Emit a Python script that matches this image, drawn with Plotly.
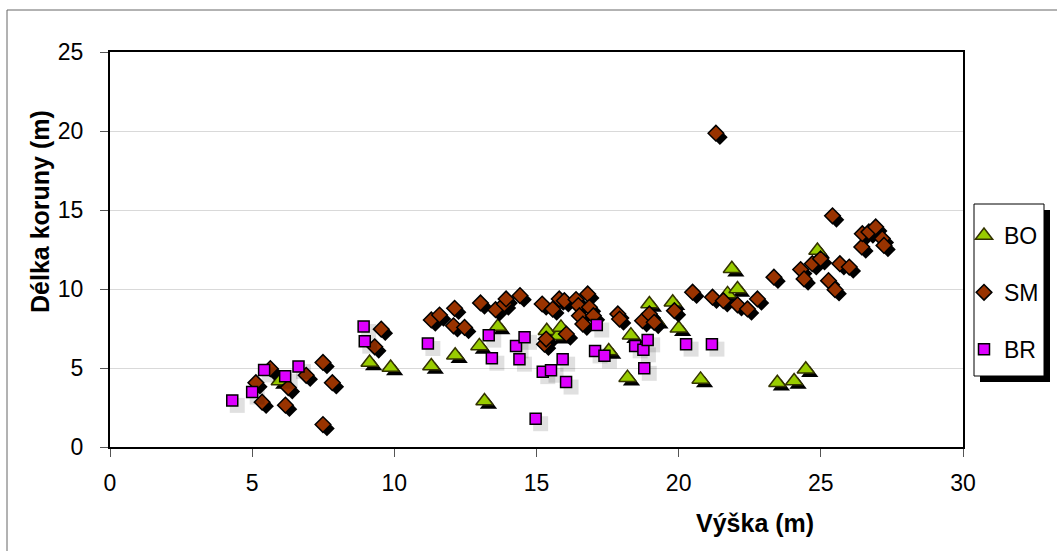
import plotly.graph_objects as go

# ---- data ----
bo_x = [5.97, 9.13, 9.87, 11.3, 12.14, 12.99, 13.17, 13.64, 15.36, 15.75, 15.86, 17.54, 18.2, 18.32,
        18.97, 19.2, 19.79, 20.0, 20.77, 21.72, 21.87, 22.07, 23.47, 24.06, 24.47, 24.88]
bo_y = [4.18, 5.35, 5.03, 5.13, 5.81, 6.40, 2.91, 7.63, 7.36, 7.04, 7.57, 6.08, 4.39, 7.08,
        9.05, 7.99, 9.16, 7.51, 4.28, 9.69, 11.28, 10.0, 4.07, 4.18, 4.92, 12.44]

sm_x = [5.13, 5.35, 5.64, 6.17, 6.27, 6.9, 7.49, 7.49, 7.82,
        9.31, 9.54,
        11.3, 11.59, 12.08, 12.12, 12.47,
        13.03, 13.56, 13.87, 13.93, 14.42,
        15.2, 15.28, 15.34, 15.57, 15.8, 15.98, 16.05, 16.39, 16.47, 16.51, 16.63, 16.8, 16.86, 17.0,
        17.86, 17.92, 18.73, 18.97, 19.14, 19.85, 20.49,
        21.19, 21.31, 21.57, 22.07, 22.42, 22.77,
        23.35, 24.29, 24.41, 24.7, 24.99, 25.27, 25.41, 25.5, 25.67, 26.0,
        26.44, 26.46, 26.69, 26.93, 27.16, 27.22]
sm_y = [4.07, 2.84, 4.96, 2.65, 3.76, 4.54, 5.35, 1.42, 4.07,
        6.34, 7.46,
        8.04, 8.35, 7.67, 8.78, 7.57,
        9.12, 8.69, 9.05, 9.37, 9.58,
        9.05, 6.51, 6.83, 8.73, 9.37, 9.26, 7.15, 9.33, 8.95, 8.31, 7.78, 9.69, 8.84, 8.31,
        8.42, 8.1, 7.99, 8.42, 7.89, 8.63, 9.8,
        9.48, 19.86, 9.26, 9.0, 8.74, 9.37,
        10.75, 11.23, 10.64, 11.6, 11.91, 10.53, 14.63, 9.96, 11.6, 11.39,
        12.66, 13.5, 13.61, 13.93, 13.19, 12.76]

br_x = [4.30, 5.0, 5.42, 6.16, 6.63, 8.92, 8.96, 11.18, 13.32, 13.43, 14.28, 14.4, 14.58, 14.97,
        15.22, 15.51, 15.92, 16.04, 17.06, 17.12, 17.39, 18.47, 18.76, 18.79, 18.91, 20.26, 21.17]
br_y = [2.95, 3.48, 4.88, 4.48, 5.09, 7.63, 6.70, 6.55, 7.08, 5.62, 6.40, 5.56, 6.94, 1.79,
        4.77, 4.86, 5.56, 4.11, 6.08, 7.72, 5.77, 6.40, 6.15, 4.98, 6.78, 6.51, 6.51]

x_ticks = [0, 5, 10, 15, 20, 25, 30]
y_ticks = [0, 5, 10, 15, 20, 25]

FONT = "Liberation Sans, Arial, sans-serif"

# plot-area geometry (px) used for shadow offsets & decorations
L, R, T, B = 110, 94, 52, 104
W, H = 1057, 551
pw, ph = W - L - R, H - T - B
ux = pw / 30.0
uy = ph / 25.0


def shift(vals, px, unit, sign):
    return [v + sign * px / unit for v in vals]


fig = go.Figure()

# BO
fig.add_trace(go.Scatter(x=shift(bo_x, 4, ux, 1), y=shift(bo_y, 4, uy, -1), mode="markers",
                         marker=dict(symbol="triangle-up", size=15, color="black", line=dict(width=0)),
                         showlegend=False, hoverinfo="skip"))
fig.add_trace(go.Scatter(x=bo_x, y=bo_y, mode="markers", name="BO", legendgroup="BO",
                         marker=dict(symbol="triangle-up", size=15, color="#99CC00",
                                     line=dict(color="#333300", width=1.5))))
# SM
fig.add_trace(go.Scatter(x=shift(sm_x, 4, ux, 1), y=shift(sm_y, 4, uy, -1), mode="markers",
                         marker=dict(symbol="diamond", size=12, color="black", line=dict(width=0)),
                         showlegend=False, hoverinfo="skip"))
fig.add_trace(go.Scatter(x=sm_x, y=sm_y, mode="markers", name="SM", legendgroup="SM",
                         marker=dict(symbol="diamond", size=12, color="#993300",
                                     line=dict(color="black", width=1.5))))
# BR
fig.add_trace(go.Scatter(x=shift(br_x, 5, ux, 1), y=shift(br_y, 5, uy, -1), mode="markers",
                         marker=dict(symbol="square", size=15, color="rgba(0,0,0,0.12)", line=dict(width=0)),
                         showlegend=False, hoverinfo="skip"))
fig.add_trace(go.Scatter(x=br_x, y=br_y, mode="markers", name="BR", legendgroup="BR",
                         marker=dict(symbol="square", size=11, color="#DD00FF",
                                     line=dict(color="black", width=1.5))))


def px2x(p):
    return (p - L) / pw


def py2y(p):
    return (H - B - p) / ph


shapes = [
    # outer chart border (only top/left visible in image)
    dict(type="rect", xref="paper", yref="paper", x0=px2x(7), x1=px2x(1070), y0=py2y(565), y1=py2y(10),
         line=dict(color="#666666", width=1), fillcolor="rgba(0,0,0,0)", layer="below"),
    # legend shadow
    dict(type="rect", xref="paper", yref="paper", x0=px2x(980), x1=px2x(1050), y0=py2y(382), y1=py2y(210),
         line=dict(width=0), fillcolor="black", layer="below"),
    # legend box
    dict(type="rect", xref="paper", yref="paper", x0=px2x(974), x1=px2x(1044), y0=py2y(376), y1=py2y(204),
         line=dict(color="black", width=1), fillcolor="white", layer="below"),
]

fig.update_layout(
    width=W, height=H,
    margin=dict(l=L, r=R, t=T, b=B, autoexpand=False),
    paper_bgcolor="white", plot_bgcolor="white",
    font=dict(family=FONT, size=23, color="black"),
    shapes=shapes,
    showlegend=True,
    legend=dict(x=px2x(964), y=py2y(214), xanchor="left", yanchor="top",
                xref="paper", yref="paper",
                bgcolor="rgba(0,0,0,0)", borderwidth=0,
                font=dict(family=FONT, size=23, color="black"),
                traceorder="grouped", tracegroupgap=24, itemwidth=30),
    xaxis=dict(range=[0, 30], tickvals=x_ticks, ticktext=[str(v) for v in x_ticks],
               showgrid=False, zeroline=False,
               showline=True, linecolor="black", linewidth=2, mirror=True,
               ticks="outside", ticklen=8, tickwidth=1, tickcolor="#555555",
               ticklabelstandoff=6,
               tickfont=dict(family=FONT, size=23, color="black")),
    yaxis=dict(range=[0, 25], tickvals=y_ticks, ticktext=[str(v) for v in y_ticks],
               showgrid=True, gridcolor="#D9D9D9", gridwidth=1, zeroline=False,
               showline=True, linecolor="black", linewidth=2, mirror=True,
               ticks="outside", ticklen=8, tickwidth=1, tickcolor="#555555",
               ticklabelstandoff=12,
               tickfont=dict(family=FONT, size=23, color="black")),
    annotations=[
        dict(text="<b>Výška (m)</b>", xref="paper", yref="paper", x=px2x(755), y=py2y(523),
             xanchor="center", yanchor="middle", showarrow=False,
             font=dict(family=FONT, size=25, color="black")),
        dict(text="<b>Délka koruny (m)</b>", xref="paper", yref="paper", x=px2x(40), y=py2y(212),
             xanchor="center", yanchor="middle", showarrow=False, textangle=-90,
             font=dict(family=FONT, size=25, color="black")),
    ],
)

fig.write_html("out.html")
